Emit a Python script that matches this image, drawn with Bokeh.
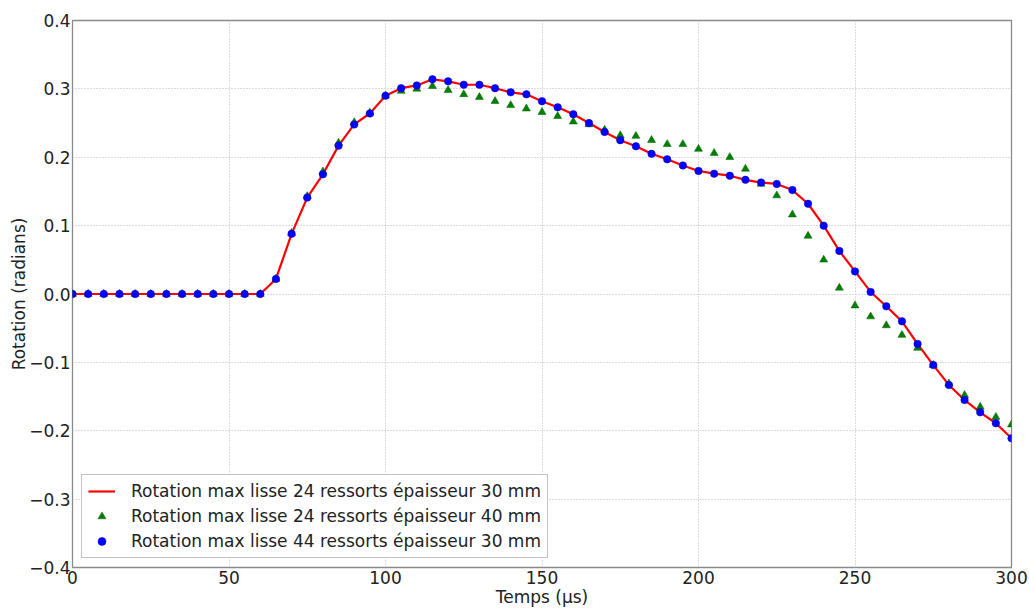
from bokeh.plotting import figure
from bokeh.models import Range1d, FixedTicker, Legend, LegendItem
from bokeh.embed import file_html
from bokeh.resources import INLINE

# ---- data ----
temps = [0, 5, 10, 15, 20, 25, 30, 35, 40, 45, 50, 55, 60,
         65, 70, 75, 80, 85, 90, 95, 100, 105, 110, 115, 120, 125, 130,
         135, 140, 145, 150, 155, 160, 165, 170, 175, 180, 185, 190, 195,
         200, 205, 210, 215, 220, 225, 230, 235, 240, 245, 250, 255, 260,
         265, 270, 275, 280, 285, 290, 295, 300]

rot_24_30 = [0, 0, 0, 0, 0, 0, 0, 0, 0, 0, 0, 0, 0,
             0.022, 0.088, 0.141, 0.175, 0.217, 0.248, 0.264, 0.290,
             0.301, 0.305, 0.314, 0.311, 0.306, 0.306, 0.301, 0.295, 0.292, 0.282,
             0.273, 0.263, 0.250, 0.237, 0.225, 0.216, 0.205, 0.197, 0.188, 0.180,
             0.176, 0.173, 0.167, 0.163, 0.161, 0.152, 0.132, 0.100, 0.063, 0.033,
             0.003, -0.018, -0.040, -0.073, -0.104, -0.133, -0.155, -0.173, -0.189, -0.211]

rot_24_40 = [0, 0, 0, 0, 0, 0, 0, 0, 0, 0, 0, 0, 0,
             0.022, 0.089, 0.143, 0.179, 0.221, 0.251, 0.265, 0.290,
             0.297, 0.300, 0.304, 0.298, 0.292, 0.288, 0.282, 0.276, 0.271, 0.266,
             0.260, 0.252, 0.248, 0.240, 0.232, 0.231, 0.225, 0.219, 0.219, 0.212,
             0.206, 0.200, 0.183, 0.161, 0.144, 0.116, 0.085, 0.050, 0.009, -0.017,
             -0.033, -0.046, -0.060, -0.079, -0.104, -0.131, -0.148, -0.165, -0.180, -0.191]

rot_44_30 = [0, 0, 0, 0, 0, 0, 0, 0, 0, 0, 0, 0, 0,
             0.022, 0.088, 0.141, 0.175, 0.217, 0.248, 0.264, 0.290,
             0.301, 0.305, 0.314, 0.311, 0.306, 0.306, 0.301, 0.295, 0.292, 0.282,
             0.273, 0.263, 0.250, 0.237, 0.225, 0.216, 0.205, 0.197, 0.188, 0.180,
             0.176, 0.173, 0.167, 0.163, 0.161, 0.152, 0.132, 0.100, 0.063, 0.033,
             0.003, -0.018, -0.040, -0.073, -0.104, -0.133, -0.155, -0.173, -0.189, -0.211]

labels = ["Rotation max lisse 24 ressorts épaisseur 30 mm",
          "Rotation max lisse 24 ressorts épaisseur 40 mm",
          "Rotation max lisse 44 ressorts épaisseur 30 mm"]

x_ticks = [0, 50, 100, 150, 200, 250, 300]
y_ticks = [-0.4, -0.3, -0.2, -0.1, 0.0, 0.1, 0.2, 0.3, 0.4]
y_tick_labels = ["\u22120.4", "\u22120.3", "\u22120.2", "\u22120.1", "0.0", "0.1", "0.2", "0.3", "0.4"]

FONT = "DejaVu Sans"
FS = "17px"

p = figure(frame_width=939, frame_height=547,
           min_border_left=72, min_border_top=20, min_border_right=18, min_border_bottom=30,
           x_range=Range1d(0, 300), y_range=Range1d(-0.4, 0.4),
           output_backend="svg", toolbar_location=None,
           background_fill_color="white", border_fill_color="white")

p.outline_line_color = "#8a8a8a"
p.outline_line_width = 1.3

# axes
p.xaxis.ticker = FixedTicker(ticks=x_ticks)
p.yaxis.ticker = FixedTicker(ticks=y_ticks)
p.yaxis.major_label_overrides = {v: s for v, s in zip(y_ticks, y_tick_labels)}
for ax in (p.xaxis[0], p.yaxis[0]):
    ax.axis_line_color = None
    ax.major_tick_line_color = None
    ax.minor_tick_line_color = None
    ax.major_tick_out = 0
    ax.major_tick_in = 0
    ax.minor_tick_out = 0
    ax.minor_tick_in = 0
    ax.major_label_text_font = FONT
    ax.major_label_text_font_size = FS
    ax.major_label_text_color = "#222222"
    ax.axis_label_text_font = FONT
    ax.axis_label_text_font_size = FS
    ax.axis_label_text_font_style = "normal"
    ax.axis_label_text_color = "#222222"
p.xaxis.axis_label = "Temps (\u03bcs)"
p.yaxis.axis_label = "Rotation (radians)"
p.xaxis.major_label_standoff = 3
p.xaxis.axis_label_standoff = 0
p.yaxis.major_label_standoff = 2
p.yaxis.axis_label_standoff = -3

# grid
for g in (p.xgrid[0], p.ygrid[0]):
    g.grid_line_color = "#b8b8b8"
    g.grid_line_dash = "1 2"
    g.grid_line_width = 1

r_line = p.line(temps, rot_24_30, line_color="#ff0000", line_width=2.2)
r_tri = p.scatter(temps, rot_24_40, marker="triangle", size=8,
                  fill_color="#007f00", line_color="#006400", line_width=0.5)
r_dot = p.scatter(temps, rot_44_30, marker="circle", size=7.5,
                  fill_color="#0000ff", line_color="#0000bb", line_width=0.5)

legend = Legend(items=[LegendItem(label=labels[0], renderers=[r_line]),
                       LegendItem(label=labels[1], renderers=[r_tri]),
                       LegendItem(label=labels[2], renderers=[r_dot])],
                location="bottom_left")
legend.margin = 9
legend.padding = 6
legend.spacing = 5
legend.glyph_width = 27
legend.glyph_height = 20
legend.label_standoff = 16
legend.label_text_font = FONT
legend.label_text_font_size = FS
legend.label_text_color = "#222222"
legend.border_line_color = "#8a8a8a"
legend.border_line_width = 1.3
legend.background_fill_color = "white"
legend.background_fill_alpha = 1
p.add_layout(legend)

open("out.html", "w").write(file_html(p, INLINE))
